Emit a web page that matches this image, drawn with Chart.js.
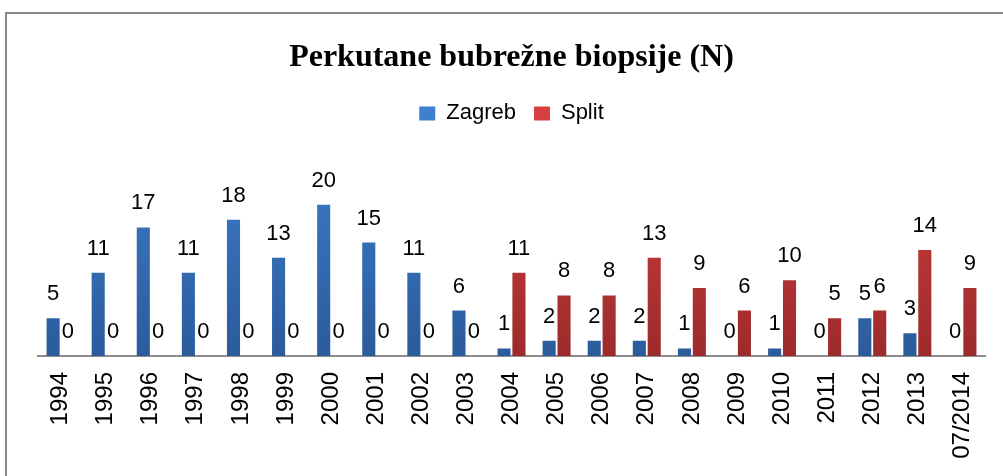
<!DOCTYPE html>
<html>
<head>
<meta charset="utf-8">
<script src="https://cdn.jsdelivr.net/npm/chart.js@4/dist/chart.umd.min.js"></script>
<style>
  html, body { margin: 0; padding: 0; background: #fff; }
  #wrap { position: relative; width: 1003px; height: 476px; overflow: hidden; }
  #frame { position: absolute; left: 5px; top: 12px; width: 1020px; height: 500px;
           border: 2px solid #8a8a8a; box-sizing: border-box; pointer-events: none; }
</style>
</head>
<body>
<div id="wrap">
  <canvas id="chart" width="1003" height="476"></canvas>
  <div id="frame"></div>
</div>
<script>
// ========= Data =========
const years = ["1994", "1995", "1996", "1997", "1998", "1999", "2000", "2001", "2002", "2003",
  "2004", "2005", "2006", "2007", "2008", "2009", "2010", "2011", "2012", "2013", "07/2014"];
const zagreb = [5, 11, 17, 11, 18, 13, 20, 15, 11, 6, 1, 2, 2, 2, 1, 0, 1, 0, 5, 3, 0];
const split = [0, 0, 0, 0, 0, 0, 0, 0, 0, 0, 11, 8, 8, 13, 9, 6, 10, 5, 6, 14, 9];

const FONT = "'Liberation Sans', Arial, sans-serif";

/* ========= Utilities ========= */
function barGradient(top, bottom) {
  return (ctx) => {
    const area = ctx.chart.chartArea;
    if (!area) return top;
    const g = ctx.chart.ctx.createLinearGradient(0, area.top, 0, area.bottom);
    g.addColorStop(0, top);
    g.addColorStop(1, bottom);
    return g;
  };
}

// value labels above every bar (no datalabels plugin available)
const valueLabels = {
  id: "valueLabels",
  afterDatasetsDraw(chart) {
    const c = chart.ctx;
    c.save();
    c.font = "22px " + FONT;
    c.fillStyle = "#000";
    c.textAlign = "center";
    c.textBaseline = "alphabetic";
    chart.data.datasets.forEach((ds, i) => {
      chart.getDatasetMeta(i).data.forEach((bar, j) => {
        c.fillText(String(ds.data[j]), bar.x, bar.y - 18);
      });
    });
    c.restore();
  }
};

/* ========= Chart ========= */
new Chart(document.getElementById("chart"), {
  type: "bar",
  data: {
    labels: years,
    datasets: [
      {
        label: "Zagreb",
        data: zagreb,
        backgroundColor: barGradient("#3e7fcf", "#2b5b9b"),
        categoryPercentage: 0.66,
        barPercentage: 0.88
      },
      {
        label: "Split",
        data: split,
        backgroundColor: barGradient("#d43f3f", "#9c2b2b"),
        categoryPercentage: 0.66,
        barPercentage: 0.88
      }
    ]
  },
  options: {
    responsive: false,
    animation: false,
    layout: { padding: { left: 38, right: 18, top: 0, bottom: 0 } },
    plugins: {
      title: {
        display: true,
        text: "Perkutane bubrežne biopsije (N)",
        color: "#000",
        font: { family: "'Liberation Serif', 'Times New Roman', serif", size: 32, weight: "bold" },
        padding: { top: 39, bottom: 7 }
      },
      legend: {
        display: true,
        labels: {
          color: "#000",
          font: { family: FONT, size: 22 },
          boxWidth: 16,
          boxHeight: 14,
          padding: 18
        }
      },
      tooltip: { enabled: false }
    },
    scales: {
      x: {
        grid: { display: false, drawTicks: false },
        border: { color: "#8c8c8c", width: 2 },
        ticks: {
          color: "#000",
          font: { family: FONT, size: 24 },
          minRotation: 90,
          maxRotation: 90,
          padding: 16,
          autoSkip: false
        },
        afterFit: (scale) => {
          scale.height = 120;
          scale.paddingLeft = 0;
          scale.paddingRight = 0;
        }
      },
      y: {
        display: false,
        min: 0,
        max: 29.3
      }
    }
  },
  plugins: [valueLabels]
});
</script>
</body>
</html>
